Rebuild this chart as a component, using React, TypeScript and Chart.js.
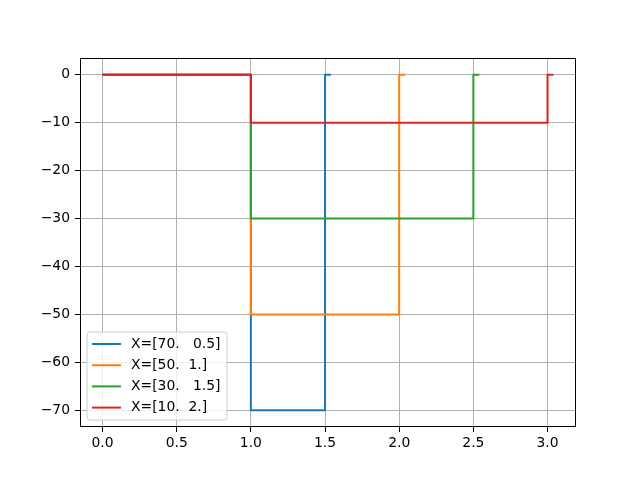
import { useEffect, useRef } from 'react';
import { Chart, registerables } from 'chart.js';
Chart.register(...registerables);

const FONT = '"DejaVu Sans", sans-serif';

const seriesLabels = ['X=[70.   0.5]', 'X=[50.  1.]', 'X=[30.   1.5]', 'X=[10.  2.]'];
const seriesColors = ['#1f77b4', '#ff7f0e', '#2ca02c', '#d62728'];

// step outlines: x and y of each vertex
const blueX = [0, 1, 1, 1.5, 1.5, 1.54];
const blueY = [0, 0, -70, -70, 0, 0];
const orangeX = [0, 1, 1, 2, 2, 2.04];
const orangeY = [0, 0, -50, -50, 0, 0];
const greenX = [0, 1, 1, 2.5, 2.5, 2.54];
const greenY = [0, 0, -30, -30, 0, 0];
const redX = [0, 1, 1, 3, 3, 3.04];
const redY = [0, 0, -10, -10, 0, 0];

const xTicks = [0, 0.5, 1, 1.5, 2, 2.5, 3];
const yTicks = [0, -10, -20, -30, -40, -50, -60, -70];

const seriesX = [blueX, orangeX, greenX, redX];
const seriesY = [blueY, orangeY, greenY, redY];

const frameAndLegend = {
  id: 'frameAndLegend',
  afterDraw(chart: Chart) {
    const { ctx, chartArea: a } = chart;
    ctx.save();
    ctx.strokeStyle = '#000';
    ctx.lineWidth = 1;
    ctx.strokeRect(Math.round(a.left) + 0.5, Math.round(a.top) + 0.5,
      Math.round(a.right - a.left) - 1, Math.round(a.bottom - a.top) - 1);

    // legend, lower left inside the axes
    const bx = a.left + 7, by = a.bottom - 95, bw = 140, bh = 88;
    ctx.beginPath();
    const r = 3;
    ctx.moveTo(bx + r, by);
    ctx.lineTo(bx + bw - r, by);
    ctx.quadraticCurveTo(bx + bw, by, bx + bw, by + r);
    ctx.lineTo(bx + bw, by + bh - r);
    ctx.quadraticCurveTo(bx + bw, by + bh, bx + bw - r, by + bh);
    ctx.lineTo(bx + r, by + bh);
    ctx.quadraticCurveTo(bx, by + bh, bx, by + bh - r);
    ctx.lineTo(bx, by + r);
    ctx.quadraticCurveTo(bx, by, bx + r, by);
    ctx.closePath();
    ctx.fillStyle = 'rgba(255,255,255,0.8)';
    ctx.fill();
    ctx.strokeStyle = '#cccccc';
    ctx.lineWidth = 1;
    ctx.stroke();

    ctx.font = `13.9px ${FONT}`;
    ctx.textBaseline = 'middle';
    ctx.textAlign = 'left';
    seriesLabels.forEach((label, i) => {
      const cy = by + 12 + i * 21.2;
      ctx.strokeStyle = seriesColors[i];
      ctx.lineWidth = 2;
      ctx.beginPath();
      ctx.moveTo(bx + 5, cy);
      ctx.lineTo(bx + 34, cy);
      ctx.stroke();
      ctx.fillStyle = '#000';
      ctx.fillText(label, bx + 44, cy);
    });
    ctx.restore();
  },
};

export default function App() {
  const canvasRef = useRef<HTMLCanvasElement>(null);

  useEffect(() => {
    document.body.style.margin = '0';
    if (!canvasRef.current) return;

    const chart = new Chart(canvasRef.current, {
      type: 'line',
      data: {
        datasets: seriesLabels.map((label, i) => ({
          label,
          data: seriesX[i].map((x, j) => ({ x, y: seriesY[i][j] })),
          borderColor: seriesColors[i],
          backgroundColor: seriesColors[i],
          borderWidth: 2,
          pointRadius: 0,
          tension: 0,
          fill: false,
          order: seriesLabels.length - 1 - i,
        })),
      },
      options: {
        animation: false,
        responsive: false,
        devicePixelRatio: 1,
        layout: { padding: { left: 0, top: 58, right: 64, bottom: 0 } },
        plugins: { legend: { display: false }, tooltip: { enabled: false } },
        scales: {
          x: {
            type: 'linear',
            min: -0.152,
            max: 3.192,
            afterBuildTicks: (s: any) => { s.ticks = xTicks.map(v => ({ value: v })); },
            afterFit: (s: any) => { s.height = 53; },
            ticks: {
              color: '#000',
              font: { size: 13.9, family: FONT },
              padding: 3,
              maxRotation: 0,
              callback: (v: any) => Number(v).toFixed(1),
            },
            grid: { color: '#b0b0b0', lineWidth: 1, tickColor: '#000', tickLength: 5, tickWidth: 1 },
            border: { display: false },
          },
          y: {
            type: 'linear',
            min: -73.5,
            max: 3.5,
            afterBuildTicks: (s: any) => { s.ticks = yTicks.map(v => ({ value: v })); },
            afterFit: (s: any) => { s.width = 80; },
            ticks: {
              color: '#000',
              font: { size: 13.9, family: FONT },
              padding: 5,
              callback: (v: any) => String(v).replace('-', '\u2212'),
            },
            grid: { color: '#b0b0b0', lineWidth: 1, tickColor: '#000', tickLength: 5, tickWidth: 1 },
            border: { display: false },
          },
        },
      },
      plugins: [frameAndLegend],
    });

    return () => { chart.destroy(); };
  }, []);

  return (
    <div style={{ width: 640, height: 480 }}>
      <canvas ref={canvasRef} width={640} height={480} role="img" aria-label="Step chart of four X series" />
    </div>
  );
}
